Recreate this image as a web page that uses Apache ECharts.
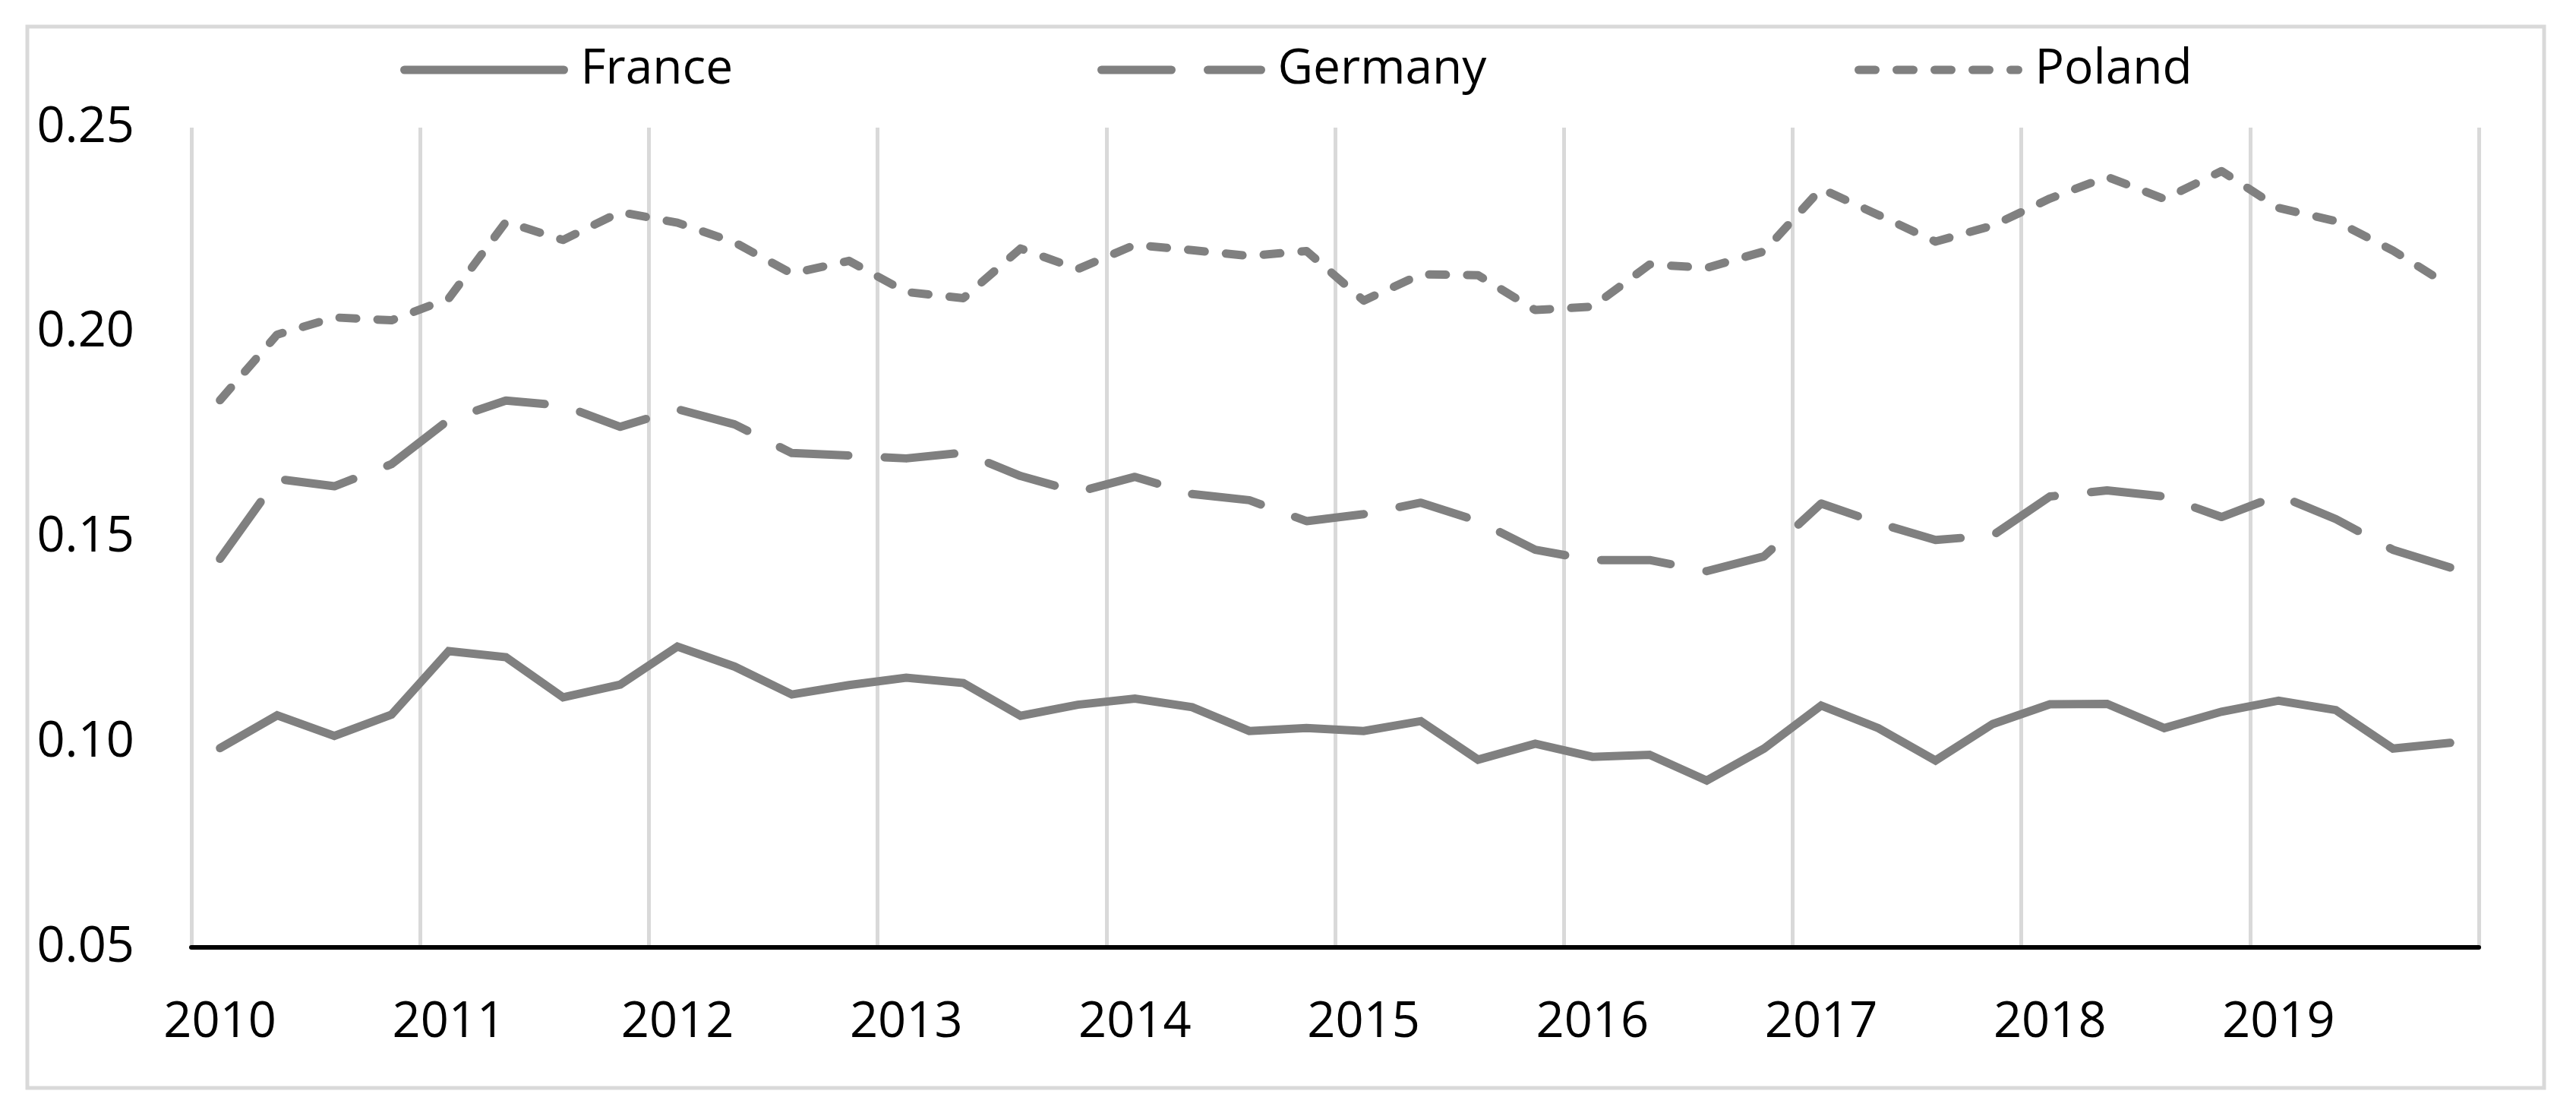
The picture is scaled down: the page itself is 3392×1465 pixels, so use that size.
<!DOCTYPE html>
<html>
<head>
<meta charset="utf-8">
<script src="https://cdn.jsdelivr.net/npm/echarts@6/dist/echarts.min.js"></script>
<style>
html,body{margin:0;padding:0;background:#fff;}
#c{width:3392px;height:1465px;}
</style>
</head>
<body>
<div id="c"></div>
<script>
const years = ['2010','2011','2012','2013','2014','2015','2016','2017','2018','2019'];
const quarters = ['Q1','Q2','Q3','Q4'];
const yTicks = [0.05, 0.10, 0.15, 0.20, 0.25];

const france = [0.0986, 0.1066, 0.1016, 0.1068, 0.1223, 0.1208, 0.1110, 0.1141, 0.1234, 0.1185,
                0.1117, 0.1140, 0.1158, 0.1145, 0.1065, 0.1092, 0.1107, 0.1086, 0.1028, 0.1035,
                0.1028, 0.1052, 0.0958, 0.0997, 0.0965, 0.0970, 0.0907, 0.0985, 0.1090, 0.1035,
                0.0956, 0.1045, 0.1093, 0.1094, 0.1035, 0.1075, 0.1102, 0.1079, 0.0985, 0.0999];
const germany = [0.1448, 0.1643, 0.1625, 0.1679, 0.1787, 0.1834, 0.1822, 0.1770, 0.1813, 0.1776,
                 0.1706, 0.1700, 0.1693, 0.1707, 0.1650, 0.1611, 0.1648, 0.1606, 0.1591, 0.1540,
                 0.1557, 0.1585, 0.1540, 0.1470, 0.1445, 0.1445, 0.1418, 0.1454, 0.1583, 0.1535,
                 0.1494, 0.1505, 0.1600, 0.1615, 0.1600, 0.1550, 0.1603, 0.1545, 0.1470, 0.1427];
const poland = [0.1835, 0.1995, 0.2037, 0.2030, 0.2083, 0.2270, 0.2226, 0.2294, 0.2268, 0.2220,
                0.2144, 0.2175, 0.2099, 0.2084, 0.2205, 0.2155, 0.2214, 0.2201, 0.2187, 0.2199,
                0.2078, 0.2142, 0.2140, 0.2055, 0.2063, 0.2166, 0.2158, 0.2198, 0.2351, 0.2287,
                0.2222, 0.2261, 0.2327, 0.2380, 0.2326, 0.2394, 0.2304, 0.2272, 0.2200, 0.2113];

const categories = [];
years.forEach(y => quarters.forEach(q => categories.push(y + ' ' + q)));

const FONT = 'Open Sans';
const GRAY = '#808080';
const LW = 11;
const DASH_DE = [92, 48];
const DASH_PL = [22, 28];

const chart = echarts.init(document.getElementById('c'), null, {renderer: 'canvas'});

function legendFor(name, left, dash) {
  return {
    data: [name],
    left: left,
    top: 60,
    padding: 0,
    itemWidth: 210,
    itemHeight: 14,
    itemStyle: {opacity: 0},
    lineStyle: {color: GRAY, width: LW, type: dash, cap: 'round', opacity: 1},
    selectedMode: false,
    textStyle: {fontFamily: FONT, fontSize: 64, color: '#000', padding: [0, 0, 0, 17]}
  };
}

chart.setOption({
  animation: false,
  backgroundColor: '#fff',
  graphic: [{
    type: 'rect',
    shape: {x: 36, y: 35, width: 3314, height: 1397},
    style: {fill: 'none', stroke: '#d9d9d9', lineWidth: 5},
    silent: true
  }],
  legend: [legendFor('France', 527, 'solid'), legendFor('Germany', 1445, DASH_DE), legendFor('Poland', 2442, DASH_PL)],
  grid: {left: 252, right: 128, top: 168, bottom: 218, containLabel: false},
  xAxis: {
    type: 'category',
    data: categories,
    boundaryGap: true,
    axisLine: {show: true, lineStyle: {color: '#000', width: 6}},
    axisTick: {show: false},
    axisLabel: {
      interval: 3,
      margin: 67,
      fontFamily: FONT, fontSize: 65, color: '#000',
      formatter: v => v.slice(0, 4)
    },
    splitLine: {show: true, interval: 3, lineStyle: {color: '#d9d9d9', width: 5}}
  },
  yAxis: {
    type: 'value',
    min: yTicks[0],
    max: yTicks[yTicks.length - 1],
    interval: 0.05,
    axisLine: {show: false},
    axisTick: {show: false},
    splitLine: {show: false},
    axisLabel: {
      margin: 75,
      fontFamily: FONT, fontSize: 65, color: '#000',
      formatter: v => v.toFixed(2)
    }
  },
  series: [
    {
      name: 'France', type: 'line', data: france, symbol: 'none', z: 4,
      itemStyle: {color: GRAY},
      lineStyle: {color: GRAY, width: LW, type: 'solid', cap: 'round', join: 'miter'}
    },
    {
      name: 'Germany', type: 'line', data: germany, symbol: 'none', z: 3,
      itemStyle: {color: GRAY},
      lineStyle: {color: GRAY, width: LW, type: DASH_DE, cap: 'round', join: 'round'}
    },
    {
      name: 'Poland', type: 'line', data: poland, symbol: 'none', z: 2,
      itemStyle: {color: GRAY},
      lineStyle: {color: GRAY, width: LW, type: DASH_PL, cap: 'round', join: 'round'}
    }
  ]
});
</script>
</body>
</html>
